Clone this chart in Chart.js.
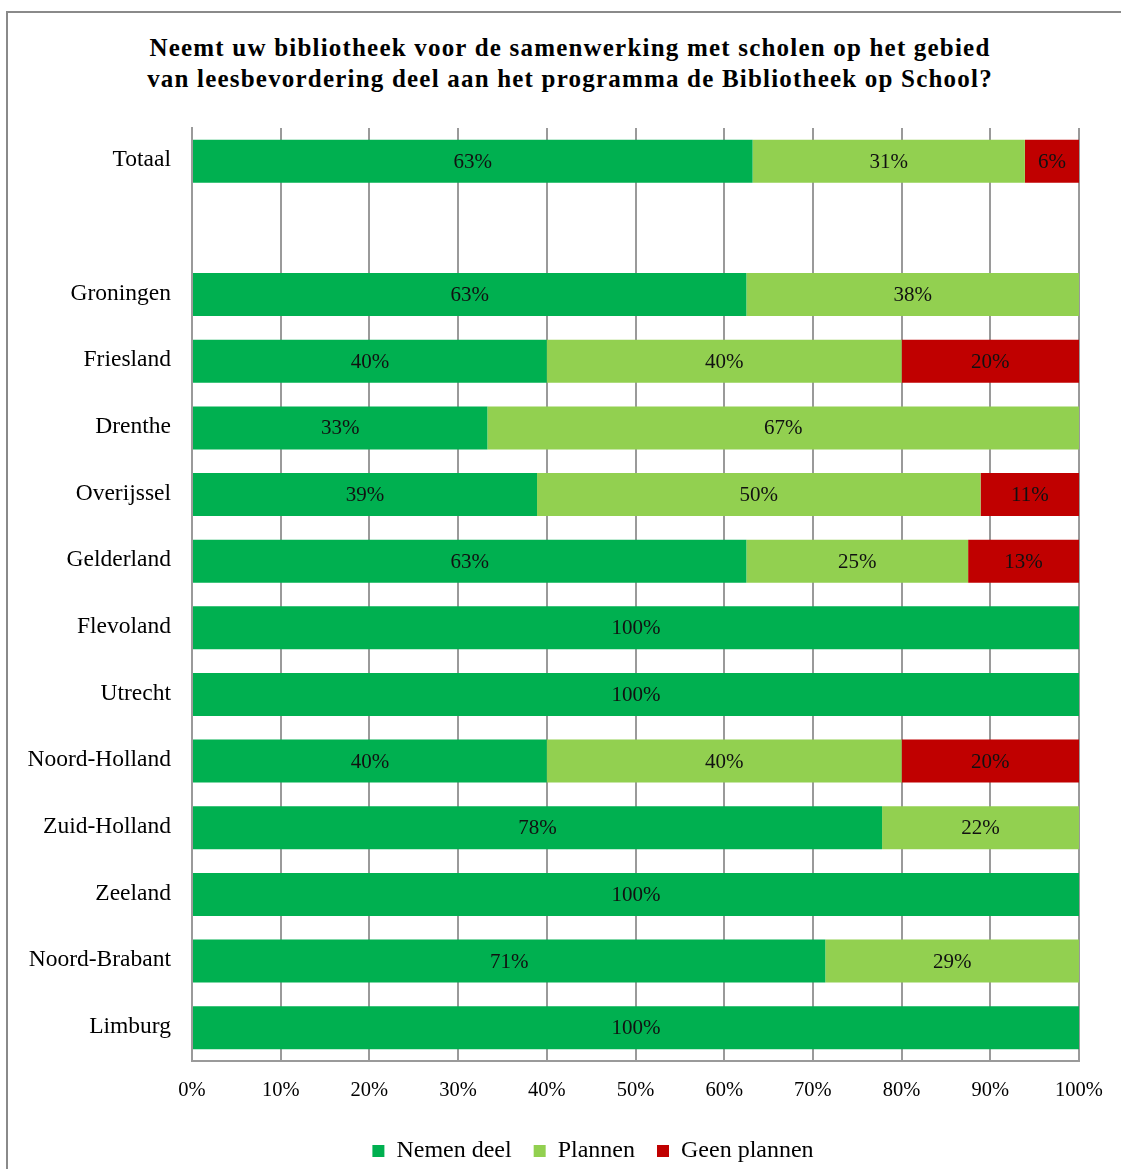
<!DOCTYPE html>
<html>
<head>
<meta charset="utf-8">
<script src="https://cdn.jsdelivr.net/npm/chart.js@4.4.1/dist/chart.umd.min.js"></script>
<style>
  html, body { margin: 0; padding: 0; background: #fff; }
  body { width: 1121px; height: 1169px; position: relative; overflow: hidden; }
  #frame { position: absolute; left: 6px; top: 11px; width: 1130px; height: 1200px;
           border: 2px solid #8a8a8a; box-sizing: border-box; }
  #title { position: absolute; left: 0; top: 32px; width: 1140px; text-align: center;
           font: bold 25px 'Liberation Serif', 'Times New Roman', serif; line-height: 31px;
           letter-spacing: 1.2px; color: #000; }
  #wrap { position: absolute; left: 0; top: 0; width: 1121px; height: 1175px; }
</style>
</head>
<body>
<div id="frame"></div>
<div id="title">Neemt uw bibliotheek voor de samenwerking met scholen op het gebied<br>van leesbevordering deel aan het programma de Bibliotheek op School?</div>
<div id="wrap"><canvas id="chart"></canvas></div>
<script>
// Values (percent of libraries per province)
const categories = ['Totaal', '', 'Groningen', 'Friesland', 'Drenthe', 'Overijssel', 'Gelderland',
    'Flevoland', 'Utrecht', 'Noord-Holland', 'Zuid-Holland', 'Zeeland', 'Noord-Brabant', 'Limburg'];
const nemenDeel   = [63.2, null, 62.5, 40, 33.3, 38.9, 62.5, 100, 100, 40, 77.8, 100, 71.4, 100];
const plannen     = [30.7, null, 37.5, 40, 66.7, 50.0, 25.0,   0,   0, 40, 22.2,   0, 28.6,   0];
const geenPlannen = [ 6.1, null,    0, 20,    0, 11.1, 12.5,   0,   0, 20,    0,   0,    0,   0];
const xTicks = [0, 10, 20, 30, 40, 50, 60, 70, 80, 90, 100];

const FONT = "'Liberation Serif', 'Times New Roman', serif";

// rounded percentage in the middle of every non-empty segment
const segmentLabels = {
    id: 'segmentLabels',
    afterDatasetsDraw(chart) {
        const ctx = chart.ctx;
        ctx.save();
        ctx.font = '21px ' + FONT;
        ctx.fillStyle = '#111';
        ctx.textAlign = 'center';
        ctx.textBaseline = 'middle';
        chart.data.datasets.forEach((ds, di) => {
            chart.getDatasetMeta(di).data.forEach((bar, i) => {
                const v = ds.data[i];
                if (!v) return;
                const p = bar.getProps(['x', 'base', 'y'], true);
                ctx.fillText(Math.round(v) + '%', (p.x + p.base) / 2, p.y + 1);
            });
        });
        ctx.restore();
    }
};

// category names, drawn from the y scale (the scale itself would clip them)
const categoryLabels = {
    id: 'categoryLabels',
    afterDraw(chart) {
        const ctx = chart.ctx, y = chart.scales.y;
        ctx.save();
        ctx.font = '23.5px ' + FONT;
        ctx.fillStyle = '#000';
        ctx.textAlign = 'right';
        ctx.textBaseline = 'middle';
        chart.data.labels.forEach((lab, i) => {
            ctx.fillText(lab, y.right - 21, y.getPixelForValue(i) - 1);
        });
        ctx.restore();
    }
};

new Chart(document.getElementById('chart'), {
    type: 'bar',
    data: {
        labels: categories,
        datasets: [
            { label: 'Nemen deel', data: nemenDeel, backgroundColor: '#00b050' },
            { label: 'Plannen', data: plannen, backgroundColor: '#92d050' },
            { label: 'Geen plannen', data: geenPlannen, backgroundColor: '#c00000' },
        ],
    },
    options: {
        indexAxis: 'y',
        responsive: true, maintainAspectRatio: false, animation: false,
        layout: { padding: { left: 107, right: 42, top: 128, bottom: 2 } },
        datasets: { bar: { categoryPercentage: 0.645, barPercentage: 1, borderWidth: 0 } },
        plugins: {
            legend: {
                position: 'bottom',
                labels: { color: '#000', boxWidth: 12, boxHeight: 12, padding: 22,
                          font: { family: FONT, size: 24 } },
            },
            tooltip: { enabled: false },
        },
        scales: {
            x: {
                stacked: true, min: 0, max: 100,
                afterBuildTicks: ax => { ax.ticks = xTicks.map(v => ({ value: v })); },
                afterFit: ax => { ax.height = 56; },
                grid: { color: '#9a9a9a', lineWidth: 2, drawTicks: false },
                border: { color: '#9a9a9a', width: 2 },
                ticks: { padding: 17, color: '#000', callback: v => v + '%',
                         font: { family: FONT, size: 20.5 } },
            },
            y: {
                stacked: true,
                afterFit: ax => { ax.width = 85; },
                grid: { display: false },
                border: { color: '#9a9a9a', width: 2 },
                ticks: { display: false },
            },
        },
    },
    plugins: [segmentLabels, categoryLabels],
});
</script>
</body>
</html>
